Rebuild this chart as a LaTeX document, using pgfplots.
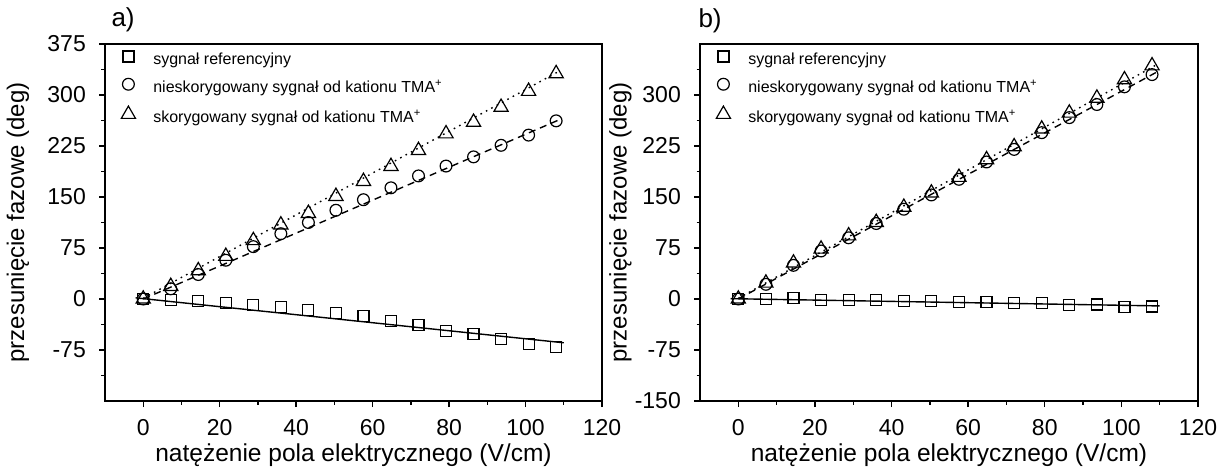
\documentclass[border=0pt]{standalone}
\usepackage{fontspec}
\setmainfont{Liberation Sans}
\usepackage{pgfplots}
\pgfplotsset{compat=1.18}

\pgfplotstableread{
x     ref    unc    cor
0     0      0      0
7.2   -1     15     18.6
14.4  -3     36     41.7
21.6  -6     57     62.8
28.8  -9     77     86
36    -12    96     109
43.2  -16    112.5  126
50.4  -20    130.5  151
57.6  -25.5  146    173
64.8  -32    163.5  195
72    -38    181    218.5
79.2  -47    195.5  243
86.4  -52    209    260
93.6  -58.5  226    282
100.8 -66    241    305.5
108   -70.5  262    331.5
}\dataA

\pgfplotstableread{
x     ref    unc    cor
0     0      0      0
7.2   0.5    21.6   23.5
14.4  1      49.5   53
21.6  -1.5   70.6   73.5
28.8  -1     90     93
36    -1.5   111    112.7
43.2  -3     132    135
50.4  -3     153    156
57.6  -4     176    179
64.8  -4     201.5  205
72    -5.4   220    224
79.2  -5.4   244.6  250
86.4  -9     266.7  273.5
93.6  -8     286    295.5
100.8 -12    312    322.5
108   -11    330    343
}\dataB

\pgfplotsset{
  panel/.style={
    scale only axis, height=357pt,
    xmin=-10, xmax=120, ymin=-150, ymax=375,
    axis line style={line width=1.4pt},
    every tick/.style={line width=1.4pt, black},
    tick align=outside,
    xtick pos=left, ytick pos=left,
    major tick length=6pt, minor tick length=3.5pt,
    xtick={0,20,...,120}, xticklabels={0,20,40,60,80,100,120},
    minor xtick={10,30,...,110},
    ticklabel style={font=\fontsize{23}{27}\selectfont, inner sep=0pt},
    xticklabel style={anchor=north, yshift=-12pt},
    yticklabel style={anchor=east, xshift=-13pt},
    xlabel={natężenie pola elektrycznego (V/cm)},
    ylabel={przesunięcie fazowe (deg)},
    xlabel style={font=\fontsize{24.5}{28}\selectfont, at={(axis description cs:0.5,0)}, anchor=base, yshift=-60pt, inner sep=0pt},
    title style={font=\fontsize{26}{30}\selectfont, at={(axis description cs:0,1)}, anchor=base west},
    legend style={at={(axis description cs:0,1)}, anchor=north west, xshift=16.3pt, yshift=-7pt,
      draw=none, fill=none, inner sep=0pt, outer sep=0pt, row sep=9.8pt, column sep=17.8pt,
      font=\fontsize{16}{19}\selectfont,
      nodes={inner sep=0pt, text height=11.5pt, text depth=4pt}},
    legend cell align=left,
    legend image code/.code={\draw[##1] plot coordinates {(0pt,4.3pt)};},
  },
  fitref/.style={forget plot, line width=1.4pt, solid},
  fitunc/.style={forget plot, line width=1.4pt, dash pattern=on 7pt off 5pt},
  fitcor/.style={forget plot, line width=1.4pt, dash pattern=on 1.6pt off 4.5pt},
  mref/.style={only marks, mark=square, mark size=5.5pt, mark options={line width=1.2pt, fill=none, solid}},
  munc/.style={only marks, mark=o, mark size=5.9pt, mark options={line width=1.2pt, fill=none, solid}},
  mcor/.style={only marks, mark=triangle, mark size=8.2pt, mark options={line width=1.2pt, fill=none, solid}},
}

\begin{document}
\begin{tikzpicture}
\path[use as bounding box] (0,0) rectangle (1222pt,466pt);

\begin{axis}[panel, at={(105pt,65pt)}, anchor=south west, width=497pt,
  ytick={-75,0,...,375}, yticklabels={-75,0,75,150,225,300,375},
  minor ytick={-112.5,-37.5,...,337.5},
  ylabel style={font=\fontsize{24}{28}\selectfont, at={(axis description cs:-0.175,0.5)}, anchor=center, rotate=0},
  title={a)}, title style={xshift=3pt, yshift=11pt}]
\addplot[fitref] coordinates {(-2,1.7) (110,-64.4)};
\addplot[fitunc] coordinates {(0,0) (109,264)};
\addplot[fitcor] coordinates {(0,1) (109,335.6)};
\addplot[mref] table[x=x,y=ref] {\dataA};
\addplot[munc] table[x=x,y=unc] {\dataA};
\addplot[mcor] table[x=x,y=cor] {\dataA};
\legend{sygnał referencyjny, nieskorygowany sygnał od kationu TMA\textsuperscript{+}, skorygowany sygnał od kationu TMA\textsuperscript{+}}
\end{axis}

\begin{axis}[panel, at={(700pt,65pt)}, anchor=south west, width=498pt,
  ytick={-150,-75,...,300}, yticklabels={-150,-75,0,75,150,225,300},
  minor ytick={-112.5,-37.5,...,337.5},
  ylabel style={font=\fontsize{24}{28}\selectfont, at={(axis description cs:-0.16,0.5)}, anchor=center, rotate=0},
  title={b)}, title style={xshift=-5pt, yshift=10pt}]
\addplot[fitref] coordinates {(-2,0.5) (110,-10.2)};
\addplot[fitunc] coordinates {(0,0) (109,333)};
\addplot[fitcor] coordinates {(0,1) (109,344)};
\addplot[mref] table[x=x,y=ref] {\dataB};
\addplot[munc] table[x=x,y=unc] {\dataB};
\addplot[mcor] table[x=x,y=cor] {\dataB};
\legend{sygnał referencyjny, nieskorygowany sygnał od kationu TMA\textsuperscript{+}, skorygowany sygnał od kationu TMA\textsuperscript{+}}
\end{axis}
\end{tikzpicture}
\end{document}
